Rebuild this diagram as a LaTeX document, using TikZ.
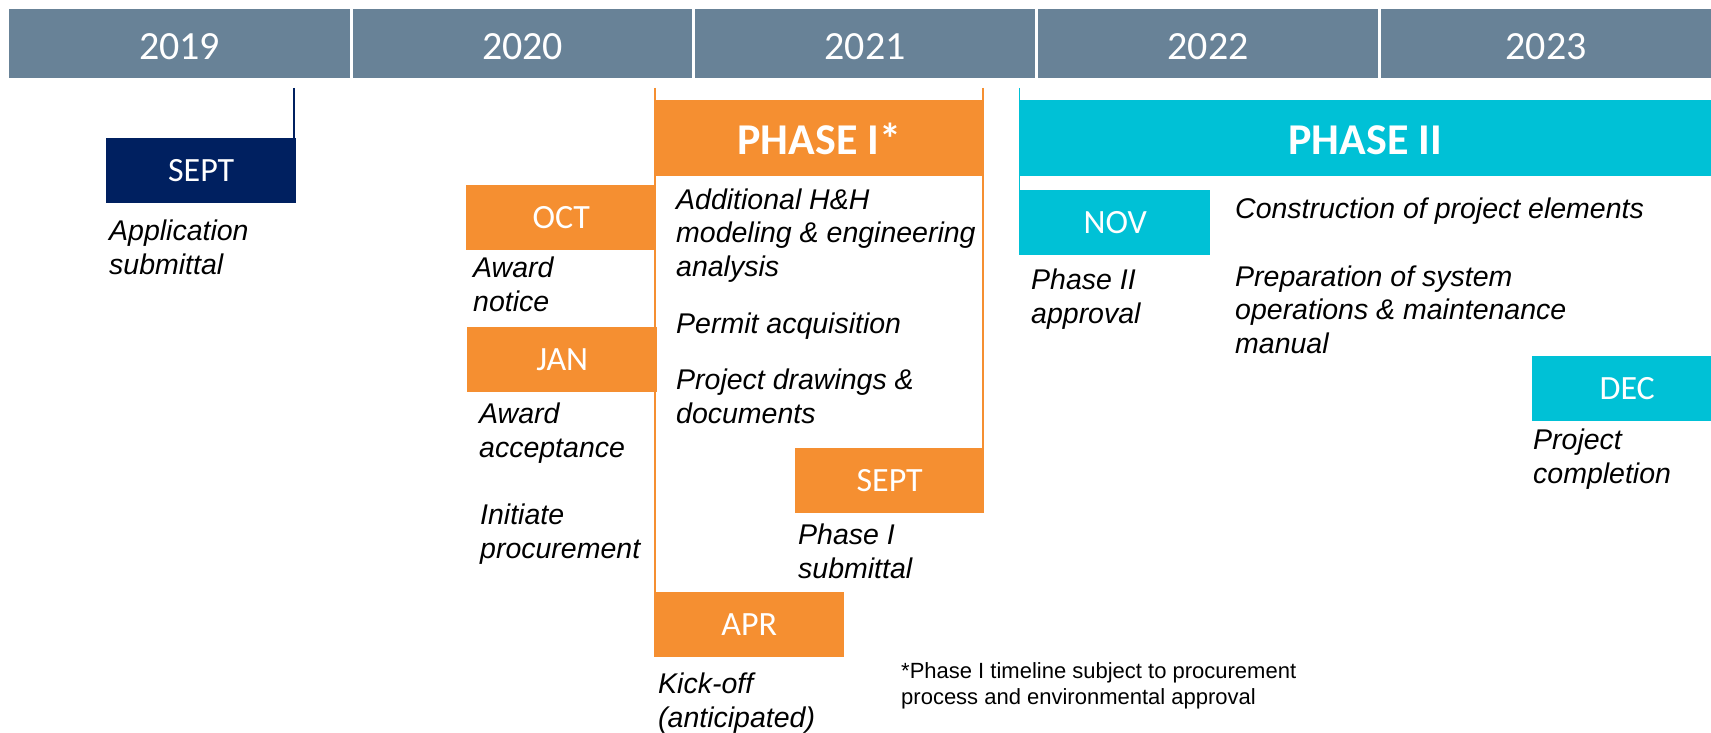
\documentclass[tikz,border=0pt]{standalone}
\usepackage{fontspec}
\setmainfont{Liberation Sans}
\newfontfamily\carl{Carlito}
\definecolor{hdr}{RGB}{104,130,151}
\definecolor{navy}{RGB}{0,32,96}
\definecolor{orng}{RGB}{245,143,49}
\definecolor{teal}{RGB}{0,193,214}
\begin{document}
\begin{tikzpicture}[x=1pt,y=-1pt,
  yearbox/.style={fill=hdr, inner sep=0, anchor=north west, minimum height=69,
    text=white, font=\carl\fontsize{40}{48}\selectfont, text height=31, text depth=0},
  monthbox/.style={inner sep=0, anchor=north west, minimum width=190, minimum height=65,
    text=white, font=\carl\fontsize{34}{40}\selectfont, text height=22, text depth=0},
  phasebox/.style={inner sep=0, anchor=north west, minimum height=76,
    text=white, font=\carl\bfseries\fontsize{44}{52}\selectfont, text height=32, text depth=0},
  desc/.style={inner sep=0, anchor=base west, align=left,
    font=\itshape\fontsize{28.5}{33.5}\selectfont},
  note/.style={inner sep=0, anchor=base west, align=left,
    font=\fontsize{22}{26}\selectfont},
  tick/.style={line width=1.5pt}
]
\clip (0,0) rectangle (1711,733);
\fill[white] (0,0) rectangle (1711,733);

% header
\node[yearbox, minimum width=341] (y19) at (9,9) {2019};
\node[yearbox, minimum width=339] (y20) at (353,9) {2020};
\node[yearbox, minimum width=340] (y21) at (695,9) {2021};
\node[yearbox, minimum width=340] (y22) at (1038,9) {2022};
\node[yearbox, minimum width=330] (y23) at (1381,9) {2023};

% connectors
\coordinate (c19) at (294,88);
\coordinate (c1l) at (655,88);
\coordinate (c1r) at (983,88);
\coordinate (c2l) at (1019.5,88);

% month boxes
\node[monthbox, fill=navy] (s19) at (106,138) {SEPT};
\node[monthbox, fill=orng] (oct) at (466,185) {OCT};
\node[monthbox, fill=orng] (jan) at (467,327) {JAN};
\node[monthbox, fill=orng, minimum width=189] (s21) at (795,448) {SEPT};
\node[monthbox, fill=orng] (apr) at (654,592) {APR};
\node[monthbox, fill=teal] (nov) at (1020,190) {NOV};
\node[monthbox, fill=teal] (dec) at (1532,356) {DEC};

% phases
\node[phasebox, fill=orng, minimum width=328] (ph1) at (655,100) {PHASE I*};
\node[phasebox, fill=teal, minimum width=692] (ph2) at (1019,100) {PHASE II};

\draw[tick, navy] (c19) -- (c19 |- s19.north);
\draw[tick, orng] (c1l) -- (c1l |- apr.north);
\draw[tick, orng] (c1r) -- (c1r |- s21.north);
\draw[tick, teal] (c2l) -- (c2l |- nov.south);

% descriptions (anchored at the baseline of their last line)
\node[desc] (d19) at (109,274) {Application\\submittal};
\node[desc] (doct) at (473,311) {Award\\notice};
\node[desc] (djan) at (479,457) {Award\\acceptance};
\node[desc] (dproc) at (480,558) {Initiate\\procurement};
\node[desc] (dadd) at (676,276) {Additional H\&H\\modeling \& engineering\\analysis};
\node[desc] (dperm) at (676,333) {Permit acquisition};
\node[desc] (ddraw) at (676,423) {Project drawings \&\\documents};
\node[desc] (ds21) at (798,578) {Phase I\\submittal};
\node[desc] (dapr) at (658,727) {Kick-off\\(anticipated)};
\node[desc] (dnov) at (1031,323) {Phase II\\approval};
\node[desc] (dcons) at (1235,218) {Construction of project elements};
\node[desc] (dprep) at (1235,353) {Preparation of system\\operations \& maintenance\\manual};
\node[desc] (ddec) at (1533,483) {Project\\completion};
\node[note] (fn) at (901,704) {*Phase I timeline subject to procurement\\process and environmental approval};
\end{tikzpicture}
\end{document}
